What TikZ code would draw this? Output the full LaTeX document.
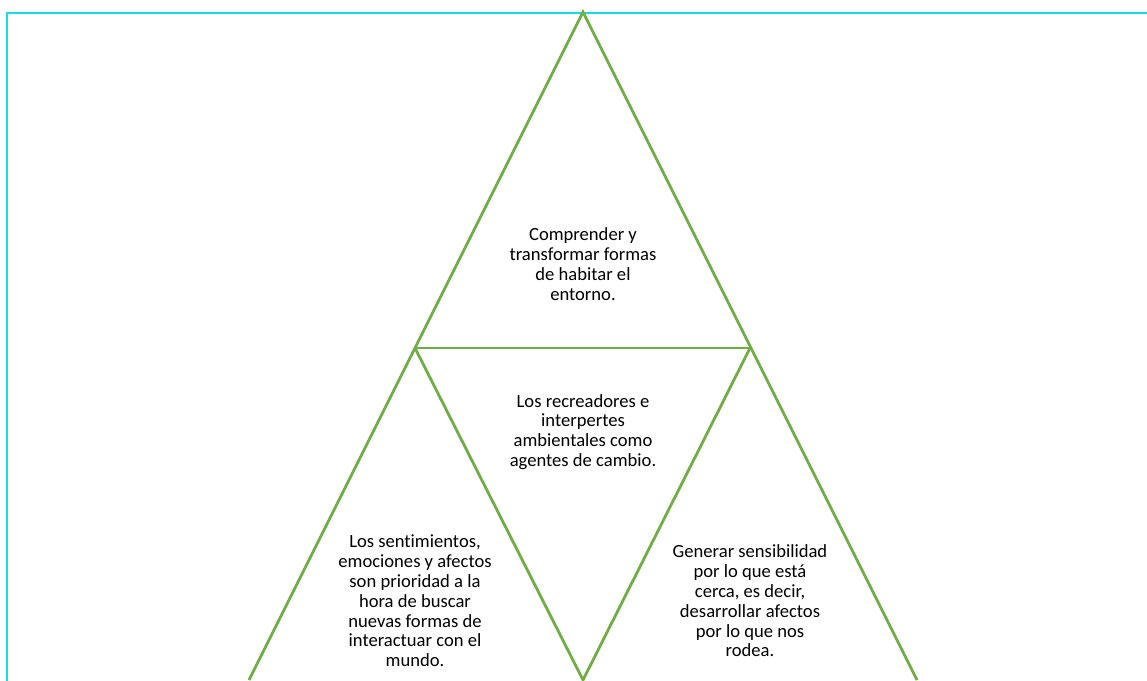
\documentclass[tikz,border=0pt]{standalone}
\usepackage{fontspec}
\setmainfont[Ligatures=NoCommon]{Carlito}
\definecolor{G6}{RGB}{112,173,71}
\definecolor{C1}{RGB}{24,220,222}
\begin{document}
\begin{tikzpicture}[x=1pt, y=-1pt,
    edge/.style={G6, line width=2.8pt, line join=miter},
    txt/.style={align=center, font=\fontsize{18.6}{19.8}\selectfont, inner sep=0pt}]
      \useasboundingbox (0, 0) rectangle (1147, 680);
      % frame
      \coordinate (fTL) at (7, 13);
      \coordinate (fTR) at (1150, 13);
      \coordinate (fBL) at (7, 690);
      \draw[C1, line width=2.4pt] (fBL)--(fTL)--(fTR);
      % corners of the triangles
      \coordinate (top) at (583, 12);
      \coordinate (midL) at (415, 348);
      \coordinate (midR) at (750, 348);
      \coordinate (botL) at (249, 680);
      \coordinate (botM) at (583, 680);
      \coordinate (botR) at (917, 680);
      \draw[edge] (botL)--(top)--(botR);
      \draw[edge] (midL)--(midR);
      \draw[edge] (midL)--(botM)--(midR);
      % texts
      \node[txt] (tTop) at (583, 264) {Comprender y\\transformar formas\\de habitar el\\entorno.};
      \node[txt] (tMid) at (583, 432) {Los recreadores e\\interpertes\\ambientales como\\agentes de cambio.};
      \node[txt] (tLeft) at (415, 601) {Los sentimientos,\\emociones y afectos\\son prioridad a la\\hora de buscar\\nuevas formas de\\interactuar con el\\mundo.};
      \node[txt] (tRight) at (750, 601) {Generar sensibilidad\\por lo que está\\cerca, es decir,\\desarrollar afectos\\por lo que nos\\rodea.};
    \end{tikzpicture}
\end{document}
